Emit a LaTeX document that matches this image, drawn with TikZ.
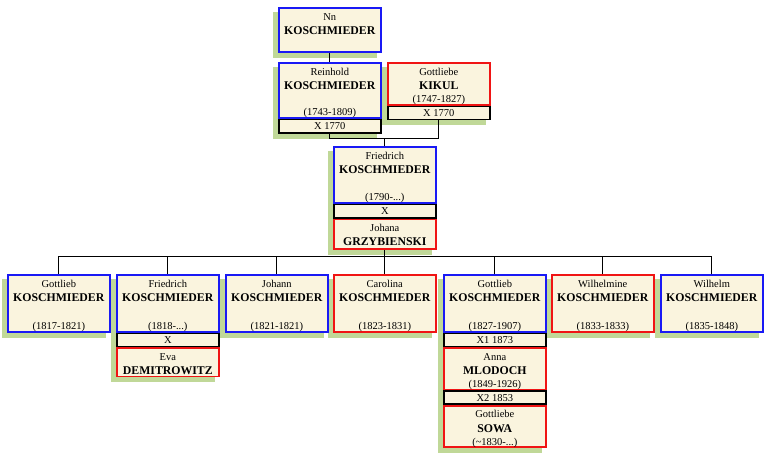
\documentclass[tikz,border=0pt]{standalone}
\usepackage{fontspec}
\setmainfont{Liberation Serif}
\usetikzlibrary{backgrounds}
\definecolor{cream}{RGB}{250,244,222}
\definecolor{shadowgreen}{RGB}{192,216,152}
\definecolor{mblue}{RGB}{25,25,245}
\definecolor{fred}{RGB}{240,20,20}
\tikzset{
  pbox/.style={draw, line width=1.6pt, fill=cream, inner sep=0pt, minimum width=102pt, anchor=north west},
  male/.style={pbox, draw=mblue},
  female/.style={pbox, draw=fred},
  marbar/.style={pbox, draw=black, font=\fontsize{10.5}{12}\selectfont},
  fn/.style={anchor=base, inner sep=0pt, font=\fontsize{10.5}{12}\selectfont},
  sn/.style={anchor=base, inner sep=0pt, font=\fontsize{11.8}{13}\selectfont\bfseries},
  conn/.style={draw=black, line width=1.3pt},
  shade/.style={fill=shadowgreen},
}
% #1 name, #2 style, #3 position, #4 height, #5 first, #6 surname, #7 dates
\newcommand\persD[7]{%
  \node[#2, minimum height=#4pt] (#1) at #3 {};
  \node[fn] (#1-f) at ([yshift=-13pt]#1.north) {#5};
  \node[sn] (#1-s) at ([yshift=-27.5pt]#1.north) {#6};
  \node[fn] (#1-d) at ([yshift=3pt]#1.south) {#7};
}
\newcommand\persN[6]{%
  \node[#2, minimum height=#4pt] (#1) at #3 {};
  \node[fn] (#1-f) at ([yshift=-13pt]#1.north) {#5};
  \node[sn] (#1-s) at ([yshift=-27pt]#1.north) {#6};
}
\newcommand\mbar[4]{% name, position, height, text
  \node[marbar, minimum height=#3pt] (#1) at #2 {#4};
}
\newcommand\gshadow[2]{%
  \fill[shade] ([shift={(-5,5)}]#1.north west) rectangle ([shift={(-5,5)}]#2.south east);
}
\begin{document}
\begin{tikzpicture}[x=1pt,y=-1pt]
\useasboundingbox (0,0) rectangle (768,455);
% top generations
\persN{nn}{male}{(278,7)}{44}{Nn}{KOSCHMIEDER}
\persD{rh}{male}{(278,62)}{55}{Reinhold}{KOSCHMIEDER}{(1743-1809)}
\mbar{rhb}{(rh.south west)}{13.5}{X 1770}
\persD{kk}{female}{(387,62)}{42}{Gottliebe}{KIKUL}{(1747-1827)}
\mbar{kkb}{(kk.south west)}{13}{X 1770}
\persD{fr}{male}{(333,146)}{56}{Friedrich}{KOSCHMIEDER}{(1790-...)}
\mbar{frb}{(fr.south west)}{13.5}{X}
\persN{jo}{female}{(frb.south west)}{29.5}{Johana}{GRZYBIENSKI}
% children
\persD{c1}{male}{(7,274)}{57}{Gottlieb}{KOSCHMIEDER}{(1817-1821)}
\persD{c2}{male}{(116,274)}{57}{Friedrich}{KOSCHMIEDER}{(1818-...)}
\mbar{c2b}{(c2.south west)}{13}{X}
\persN{eva}{female}{(c2b.south west)}{28.5}{Eva}{DEMITROWITZ}
\persD{c3}{male}{(225,274)}{57}{Johann}{KOSCHMIEDER}{(1821-1821)}
\persD{c4}{female}{(333,274)}{57}{Carolina}{KOSCHMIEDER}{(1823-1831)}
\persD{c5}{male}{(443,274)}{57}{Gottlieb}{KOSCHMIEDER}{(1827-1907)}
\mbar{c5b}{(c5.south west)}{13}{X1 1873}
\persD{anna}{female}{(c5b.south west)}{41.5}{Anna}{MLODOCH}{(1849-1926)}
\mbar{c5c}{(anna.south west)}{13}{X2 1853}
\persD{sowa}{female}{(c5c.south west)}{41.5}{Gottliebe}{SOWA}{(\textasciitilde1830-...)}
\persD{c6}{female}{(551,274)}{57}{Wilhelmine}{KOSCHMIEDER}{(1833-1833)}
\persD{c7}{male}{(660,274)}{57}{Wilhelm}{KOSCHMIEDER}{(1835-1848)}
\begin{scope}[on background layer]
  \gshadow{nn}{nn}
  \gshadow{rh}{rhb}
  \gshadow{kk}{kkb}
  \gshadow{fr}{jo}
  \gshadow{c1}{c1}
  \gshadow{c2}{eva}
  \gshadow{c3}{c3}
  \gshadow{c4}{c4}
  \gshadow{c5}{sowa}
  \gshadow{c6}{c6}
  \gshadow{c7}{c7}
  % connectors
  \draw[conn] (nn.south) -- (rh.north);
  \draw[conn] (rhb.south) -- ++(0,5) coordinate (m1) -| (kkb.south);
  \draw[conn] (fr.north) -- (fr.north |- m1);
  \draw[conn] (jo.south) -- ++(0,7) coordinate (bus);
  \draw[conn] (c1.north) -- (c1.north |- bus) -- (c7.north |- bus) -- (c7.north);
  \foreach \c in {c2,c3,c4,c5,c6} {
    \draw[conn] (\c.north) -- (\c.north |- bus);
  }
\end{scope}
\end{tikzpicture}
\end{document}
